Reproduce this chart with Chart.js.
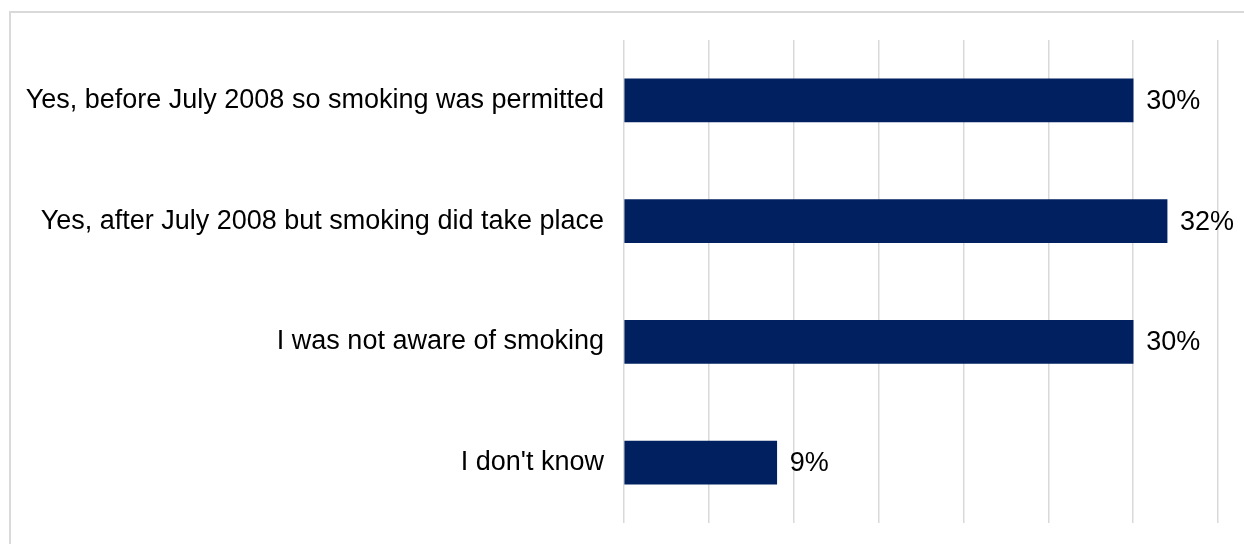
<!DOCTYPE html>
<html>
<head>
<meta charset="utf-8">
<script src="https://cdn.jsdelivr.net/npm/chart.js@4/dist/chart.umd.min.js"></script>
<style>
    html, body { margin: 0; padding: 0; background: #fff; overflow: hidden; }
    canvas { display: block; }
</style>
</head>
<body>
<canvas id="chartCanvas" width="1244" height="544"></canvas>
<script>
const answers = [
    'Yes, before July 2008 so smoking was permitted',
    'Yes, after July 2008 but smoking did take place',
    'I was not aware of smoking',
    "I don't know"
];
const percents = [30, 32, 30, 9];
const axisMin = 0;
const axisMax = 35;
const axisStep = 5;

const fontFamily = '"Liberation Sans", Arial, sans-serif';

// light grey frame along the top and left edges
const framePlugin = {
    id: 'frame',
    beforeDraw(chart) {
        const ctx = chart.ctx;
        ctx.save();
        ctx.strokeStyle = '#d9d9d9';
        ctx.lineWidth = 2;
        ctx.beginPath();
        ctx.moveTo(10, 544);
        ctx.lineTo(10, 12);
        ctx.lineTo(1244, 12);
        ctx.stroke();
        ctx.restore();
    }
};

// percentage text just past the end of each bar
const valueLabels = {
    id: 'valueLabels',
    afterDatasetsDraw(chart) {
        const ctx = chart.ctx;
        const meta = chart.getDatasetMeta(0);
        ctx.save();
        ctx.font = '27px ' + fontFamily;
        ctx.fillStyle = '#000';
        ctx.textAlign = 'left';
        ctx.textBaseline = 'middle';
        meta.data.forEach((bar, i) => {
            ctx.fillText(percents[i] + '%', bar.x + 13, bar.y + 1);
        });
        ctx.restore();
    }
};

new Chart(document.getElementById('chartCanvas'), {
    type: 'bar',
    data: {
        labels: answers,
        datasets: [{
            data: percents,
            backgroundColor: '#002060',
            borderWidth: 0,
            barThickness: 43
        }]
    },
    options: {
        indexAxis: 'y',
        responsive: false,
        animation: false,
        layout: { padding: { top: 40, bottom: 21, right: 26, left: 0 } },
        plugins: {
            legend: { display: false },
            tooltip: { enabled: false }
        },
        scales: {
            x: {
                min: axisMin,
                max: axisMax,
                ticks: { display: false, stepSize: axisStep },
                grid: { color: '#d9d9d9', lineWidth: 1.5, drawTicks: false },
                border: { display: false },
                afterFit(scale) { scale.height = 0; }
            },
            y: {
                grid: { display: false, drawTicks: false },
                border: { display: false },
                ticks: {
                    color: '#000',
                    padding: 20,
                    font: { family: fontFamily, size: 27 }
                },
                afterFit(scale) {
                    scale.width = 624;
                    // labels sit inside their bands, no extra room needed above/below
                    scale.paddingTop = 0;
                    scale.paddingBottom = 0;
                }
            }
        }
    },
    plugins: [framePlugin, valueLabels]
});
</script>
</body>
</html>
